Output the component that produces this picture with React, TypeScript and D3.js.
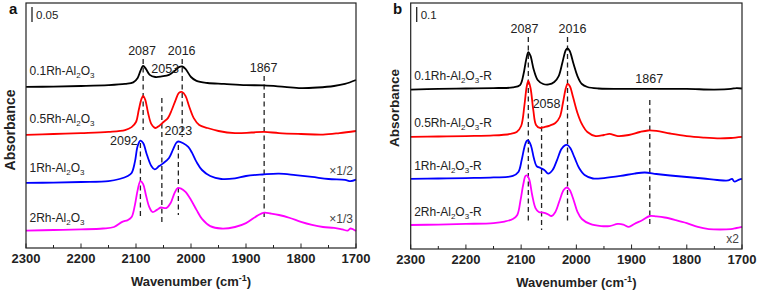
import React from "react";
import * as d3 from "d3";

type Pt = [number, number];

// ---------- Panel a: stacked absorbance spectra ----------
const a01: Pt[] = [[2300,0.537],[2250,0.538],[2200,0.54],[2150,0.543],[2120,0.547],[2105,0.552],[2097,0.567],[2092,0.59],[2087,0.607],[2082,0.597],[2075,0.577],[2065,0.57],[2053,0.572],[2040,0.577],[2030,0.59],[2022,0.603],[2016,0.605],[2010,0.597],[2000,0.57],[1990,0.557],[1970,0.55],[1940,0.547],[1900,0.543],[1867,0.542],[1830,0.537],[1800,0.533],[1770,0.535],[1740,0.54],[1720,0.547],[1700,0.56]];
const a05: Pt[] = [[2300,0.377],[2250,0.38],[2200,0.383],[2150,0.387],[2120,0.393],[2108,0.403],[2100,0.42],[2095,0.46],[2090,0.497],[2087,0.507],[2083,0.493],[2078,0.45],[2072,0.413],[2065,0.4],[2058,0.407],[2050,0.42],[2042,0.433],[2035,0.46],[2028,0.493],[2022,0.517],[2016,0.52],[2010,0.507],[2003,0.47],[1995,0.433],[1985,0.41],[1970,0.4],[1950,0.39],[1920,0.383],[1890,0.385],[1867,0.387],[1840,0.383],[1800,0.38],[1760,0.378],[1730,0.383],[1700,0.39]];
const a1: Pt[] = [[2300,0.217],[2250,0.218],[2200,0.22],[2150,0.223],[2130,0.23],[2115,0.24],[2108,0.25],[2102,0.287],[2097,0.34],[2092,0.358],[2087,0.35],[2080,0.31],[2072,0.273],[2066,0.262],[2058,0.273],[2050,0.283],[2040,0.3],[2033,0.327],[2027,0.35],[2023,0.355],[2015,0.35],[2005,0.337],[1998,0.317],[1990,0.287],[1980,0.26],[1965,0.24],[1945,0.23],[1920,0.232],[1900,0.24],[1870,0.245],[1840,0.248],[1810,0.243],[1780,0.237],[1750,0.23],[1720,0.227],[1710,0.223],[1700,0.228]];
const a2: Pt[] = [[2300,0.058],[2250,0.06],[2200,0.062],[2160,0.065],[2140,0.07],[2125,0.087],[2115,0.093],[2108,0.103],[2102,0.143],[2097,0.193],[2092,0.223],[2087,0.213],[2082,0.177],[2076,0.137],[2070,0.12],[2062,0.127],[2055,0.135],[2045,0.133],[2037,0.15],[2030,0.183],[2024,0.2],[2018,0.198],[2010,0.187],[2000,0.16],[1990,0.127],[1980,0.097],[1965,0.073],[1945,0.065],[1920,0.07],[1900,0.083],[1880,0.107],[1867,0.118],[1855,0.115],[1840,0.11],[1820,0.1],[1800,0.087],[1780,0.077],[1760,0.07],[1740,0.067],[1725,0.062],[1715,0.058],[1710,0.065],[1700,0.057]];

// ---------- Panel b ----------
const b01: Pt[] = [[2300,1.063],[2250,1.067],[2200,1.07],[2150,1.073],[2115,1.077],[2102,1.093],[2096,1.16],[2091,1.26],[2087,1.313],[2083,1.287],[2077,1.193],[2070,1.127],[2060,1.1],[2050,1.097],[2040,1.113],[2032,1.153],[2025,1.247],[2019,1.327],[2016,1.337],[2012,1.32],[2005,1.233],[1998,1.153],[1990,1.1],[1980,1.08],[1960,1.07],[1900,1.067],[1850,1.067],[1800,1.067],[1750,1.063],[1720,1.067],[1710,1.073],[1700,1.07]];
const b05: Pt[] = [[2300,0.747],[2250,0.75],[2200,0.753],[2150,0.757],[2120,0.767],[2108,0.78],[2100,0.82],[2094,0.96],[2090,1.08],[2087,1.12],[2083,1.073],[2078,0.927],[2073,0.827],[2066,0.807],[2058,0.813],[2048,0.823],[2038,0.84],[2030,0.88],[2024,0.98],[2019,1.073],[2016,1.1],[2012,1.087],[2006,1.013],[1998,0.907],[1990,0.833],[1980,0.78],[1965,0.753],[1950,0.76],[1940,0.767],[1925,0.753],[1905,0.76],[1885,0.78],[1870,0.79],[1855,0.787],[1830,0.77],[1800,0.753],[1770,0.743],[1740,0.737],[1720,0.74],[1700,0.747]];
const b1: Pt[] = [[2300,0.467],[2250,0.47],[2200,0.473],[2150,0.477],[2115,0.487],[2105,0.513],[2099,0.593],[2094,0.68],[2090,0.72],[2087,0.723],[2082,0.687],[2077,0.607],[2072,0.553],[2065,0.54],[2058,0.527],[2051,0.503],[2043,0.527],[2035,0.593],[2027,0.667],[2020,0.693],[2016,0.693],[2011,0.673],[2003,0.607],[1995,0.54],[1985,0.493],[1970,0.47],[1950,0.473],[1920,0.487],[1895,0.503],[1876,0.51],[1855,0.5],[1830,0.49],[1800,0.48],[1770,0.47],[1745,0.46],[1725,0.457],[1718,0.467],[1714,0.45],[1705,0.463],[1700,0.467]];
const b2: Pt[] = [[2300,0.16],[2250,0.163],[2200,0.167],[2150,0.173],[2130,0.183],[2115,0.2],[2107,0.227],[2101,0.327],[2096,0.433],[2092,0.487],[2089,0.49],[2085,0.46],[2080,0.36],[2074,0.273],[2068,0.247],[2060,0.243],[2052,0.233],[2045,0.22],[2038,0.247],[2030,0.327],[2023,0.393],[2017,0.41],[2012,0.393],[2005,0.327],[1998,0.247],[1990,0.2],[1975,0.167],[1955,0.153],[1940,0.153],[1925,0.167],[1915,0.163],[1905,0.147],[1895,0.167],[1880,0.193],[1867,0.22],[1855,0.217],[1840,0.21],[1820,0.193],[1800,0.173],[1780,0.147],[1760,0.133],[1740,0.13],[1720,0.133],[1710,0.14],[1700,0.147]];

const seriesColors = ["#000000", "#ff0000", "#0000ff", "#ff00ff"];
const labelsA = ["0.1Rh", "0.5Rh", "1Rh", "2Rh"];
const labelsB = ["0.1Rh", "0.5Rh", "1Rh", "2Rh"];
const tickValues = [2300, 2250, 2200, 2150, 2100, 2050, 2000, 1950, 1900, 1850, 1800, 1750, 1700];

// dashed guide lines: [wavenumber, top, bottom] and peak labels [text, wn, absorbance]
const guidesA: [number, number, number][] = [[2087,0.63,0.393],[2092,0.35,0.103],[2053,0.5,0.083],[2016,0.63,0.37],[2023,0.343,0.11],[1867,0.573,0.1]];
const peakLabelsA: [string, number, number][] = [["2087",2089,0.643],["2016",2017,0.643],["2053",2047,0.583],["1867",1868,0.587],["2092",2122,0.343],["2023",2023,0.377]];
const guidesB: [number, number, number][] = [[2087,1.413,0.173],[2016,1.413,0.173],[2063,0.873,0.127],[1867,0.993,0.147]];
const peakLabelsB: [string, number, number][] = [["2087",2094,1.44],["2016",2007,1.44],["2058",2054,0.94],["1867",1868,1.107]];
const sampleLabelYA = [0.577, 0.417, 0.253, 0.087];
const sampleLabelYB = [1.127, 0.813, 0.527, 0.22];

const FONT = "'Liberation Sans', Arial, Helvetica, sans-serif";

function SampleLabel({ x, y, name, suffix }: { x: number; y: number; name: string; suffix: string }) {
  return (
    <text x={x} y={y} fontSize={12} fontFamily={FONT} fill="#222">
      {name}-Al
      <tspan fontSize={8} dy={3}>2</tspan>
      <tspan dy={-3}>O</tspan>
      <tspan fontSize={8} dy={3}>3</tspan>
      {suffix ? <tspan dy={-3}>{suffix}</tspan> : null}
    </text>
  );
}

type PanelProps = {
  x0: number; x1: number; yTop: number; yBot: number; yMax: number;
  series: Pt[][]; labels: string[]; labelY: number[]; suffix: string;
  guides: [number, number, number][]; peaks: [string, number, number][];
  barBottom: number; barSize: number; barText: string;
  letter: string; letterX: number; yLabelX: number; yLabelY: number; yLabelSize: number;
  multipliers: [string, number][];
};

function Panel(p: PanelProps) {
  const x = d3.scaleLinear().domain([2300, 1700]).range([p.x0, p.x1]);
  const y = d3.scaleLinear().domain([0, p.yMax]).range([p.yBot, p.yTop]);
  const line = d3.line<Pt>().x(d => x(d[0])).y(d => y(d[1])).curve(d3.curveCatmullRom.alpha(0.5));
  const cx = (p.x0 + p.x1) / 2;
  return (
    <g>
      {p.guides.map((g, i) => (
        <line key={"g" + i} x1={x(g[0])} x2={x(g[0])} y1={y(g[1])} y2={y(g[2])} stroke="#222" strokeWidth={1.3} strokeDasharray="5,3.5" />
      ))}
      {p.series.map((s, i) => (
        <path key={"s" + i} d={line(s) || ""} fill="none" stroke={seriesColors[i]} strokeWidth={1.8} strokeLinejoin="round" />
      ))}
      <rect x={p.x0} y={p.yTop} width={p.x1 - p.x0} height={p.yBot - p.yTop} fill="none" stroke="#222" strokeWidth={1.2} />
      {tickValues.map(t => (
        <line key={"t" + t} x1={x(t)} x2={x(t)} y1={p.yBot} y2={p.yBot - (t % 100 === 0 ? 4.5 : 3)} stroke="#222" strokeWidth={1} />
      ))}
      {tickValues.filter(t => t % 100 === 0).map(t => (
        <text key={"l" + t} x={x(t)} y={p.yBot + 15} textAnchor="middle" fontSize={13} fontWeight="bold" fontFamily={FONT} fill="#222">{t}</text>
      ))}
      <text x={cx} y={p.yBot + 38} textAnchor="middle" fontSize={13} fontWeight="bold" fontFamily={FONT} fill="#222">
        Wavenumber (cm<tspan fontSize={9} dy={-5}>-1</tspan><tspan dy={5}>)</tspan>
      </text>
      <text transform={`translate(${p.yLabelX},${p.yLabelY}) rotate(-90)`} textAnchor="middle" fontSize={p.yLabelSize} fontWeight="bold" fontFamily={FONT} fill="#222">Absorbance</text>
      <text x={p.letterX} y={14} fontSize={15} fontWeight="bold" fontFamily={FONT} fill="#111">{p.letter}</text>
      <line x1={p.x0 + 6} x2={p.x0 + 6} y1={y(p.barBottom)} y2={y(p.barBottom + p.barSize)} stroke="#222" strokeWidth={1.3} />
      <text x={p.x0 + 10} y={y(p.barBottom) - 3} fontSize={11.5} fontFamily={FONT} fill="#222">{p.barText}</text>
      {p.peaks.map((pk, i) => (
        <text key={"p" + i} x={x(pk[1])} y={y(pk[2])} textAnchor="middle" fontSize={12.5} fontFamily={FONT} fill="#222">{pk[0]}</text>
      ))}
      {p.labels.map((l, i) => (
        <SampleLabel key={"n" + i} x={p.x0 + 3.5} y={y(p.labelY[i])} name={l} suffix={p.suffix} />
      ))}
      {p.multipliers.map((m, i) => (
        <text key={"m" + i} x={p.x1 - 3} y={y(m[1])} textAnchor="end" fontSize={12} fontFamily={FONT} fill="#444">{m[0]}</text>
      ))}
    </g>
  );
}

export default function App() {
  return (
    <svg width={758} height={293} style={{ position: "absolute", left: 0, top: 0, background: "#fff" }}>
      <Panel x0={26} x1={356} yTop={3} yBot={248} yMax={245 / 300}
        series={[a01, a05, a1, a2]} labels={labelsA} labelY={sampleLabelYA} suffix=""
        guides={guidesA} peaks={peakLabelsA} barBottom={0.753} barSize={0.05} barText="0.05"
        letter="a" letterX={9} yLabelX={15} yLabelY={130} yLabelSize={14}
        multipliers={[["×1/2", 0.243], ["×1/3", 0.083]]} />
      <Panel x0={410.7} x1={742} yTop={3} yBot={249} yMax={246 / 150}
        series={[b01, b05, b1, b2]} labels={labelsB} labelY={sampleLabelYB} suffix="-R"
        guides={guidesB} peaks={peakLabelsB} barBottom={1.513} barSize={0.1} barText="0.1"
        letter="b" letterX={393} yLabelX={399} yLabelY={108} yLabelSize={13.5}
        multipliers={[["x2", 0.04]]} />
    </svg>
  );
}
